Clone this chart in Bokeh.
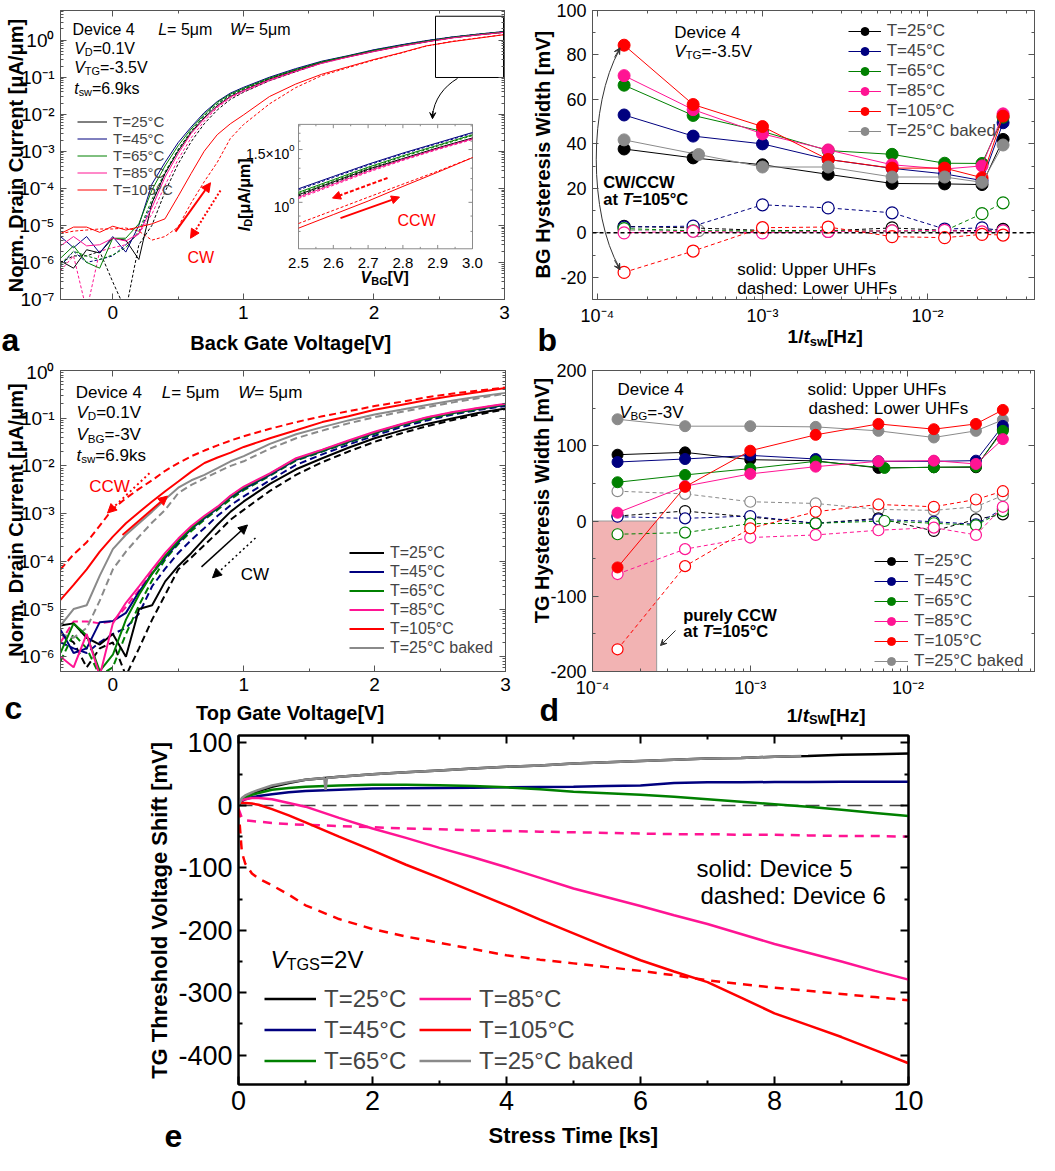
import math
from bokeh.plotting import figure
from bokeh.models import (Range1d, LinearAxis, LogAxis, Label, Arrow, NormalHead, VeeHead,
                          Legend, LegendItem, CustomJSTickFormatter, FixedTicker, Span,
                          LogScale, LinearScale)
from bokeh.layouts import column, row
from bokeh.embed import file_html
from bokeh.resources import INLINE

# ======================= DATA =======================
TEMP_LABELS = ["T=25°C", "T=45°C", "T=65°C", "T=85°C", "T=105°C", "T=25°C baked"]

# ---- panel a : BG transfer curves (forward = solid, reverse = dashed)
VA = [-0.4, -0.3, -0.2, -0.1, 0.0, 0.1, 0.2, 0.3, 0.4, 0.5, 0.6, 0.7, 0.8, 0.9, 1.0,
      1.2, 1.4, 1.6, 1.8, 2.0, 2.2, 2.4, 2.6, 2.8, 3.0]
a_fw_25 = [1.1e-6, 7e-7, 2.2e-6, 1.8e-6, 4.5e-6, 4e-6, 1.2e-6, 4e-5, 2.5e-4, 1e-3, 3.2e-3, 8e-3, 1.7e-2, 3e-2, 4.4e-2,
           8.8e-2, 0.15, 0.25, 0.36, 0.51, 0.69, 0.91, 1.17, 1.40, 1.64]
a_fw_45 = [5e-6, 2.5e-6, 5e-6, 1.8e-6, 5e-6, 1.9e-6, 1e-5, 1.3e-4, 5e-4, 1.7e-3, 4.5e-3, 1.1e-2, 2.2e-2, 3.7e-2, 5.3e-2,
           0.10, 0.17, 0.27, 0.38, 0.55, 0.74, 0.97, 1.22, 1.46, 1.71]
a_fw_65 = [1.3e-6, 2.8e-6, 1e-6, 7e-7, 4.5e-6, 4.5e-6, 1.1e-5, 9e-5, 4e-4, 1.4e-3, 4e-3, 1e-2, 2.1e-2, 3.5e-2, 5.0e-2,
           0.095, 0.16, 0.26, 0.37, 0.53, 0.71, 0.94, 1.19, 1.43, 1.68]
a_fw_85 = [2.8e-6, 5e-6, 2.8e-6, 3e-6, 4.5e-6, 3.8e-6, 6e-6, 3e-5, 2e-4, 8.5e-4, 3e-3, 7.5e-3, 1.6e-2, 2.9e-2, 4.3e-2,
           8.5e-2, 0.145, 0.24, 0.35, 0.50, 0.68, 0.90, 1.15, 1.39, 1.63]
a_fw_105 = [6e-6, 9e-6, 9e-6, 6.5e-6, 9.5e-6, 7.5e-6, 9e-6, 1.1e-5, 1.5e-5, 6e-5, 2.5e-4, 1e-3, 2.8e-3, 5.5e-3, 9.5e-3,
            3e-2, 6.5e-2, 0.12, 0.19, 0.30, 0.45, 0.70, 0.91, 1.13, 1.41]
a_rv_25 = [1e-6, 1.5e-6, 1.5e-6, 2e-6, 3e-7, 5e-8, 3e-6, 1e-5, 8e-5, 4.5e-4, 1.8e-3, 5.5e-3, 1.3e-2, 2.5e-2, 3.9e-2,
           8e-2, 0.14, 0.24, 0.35, 0.50, 0.68, 0.90, 1.16, 1.39, 1.63]
a_rv_45 = [8e-7, 2e-6, 1e-6, 1.2e-6, 1.5e-6, 3e-6, 6e-6, 4e-5, 2.5e-4, 1.1e-3, 3.5e-3, 9e-3, 1.9e-2, 3.3e-2, 4.8e-2,
           0.094, 0.16, 0.26, 0.37, 0.54, 0.73, 0.96, 1.21, 1.45, 1.70]
a_rv_65 = [9e-7, 2e-6, 1.5e-6, 1.2e-6, 1.6e-6, 2.5e-6, 7e-6, 5e-5, 2.8e-4, 1.1e-3, 3.5e-3, 9e-3, 1.9e-2, 3.2e-2, 4.7e-2,
           0.09, 0.155, 0.25, 0.36, 0.52, 0.70, 0.93, 1.18, 1.42, 1.67]
a_rv_85 = [6e-7, 1.5e-6, 5e-8, 2e-6, 2.5e-6, 3e-6, 6e-6, 2e-5, 1.2e-4, 6e-4, 2.3e-3, 6.5e-3, 1.5e-2, 2.7e-2, 4.0e-2,
           8e-2, 0.14, 0.235, 0.345, 0.49, 0.67, 0.89, 1.14, 1.38, 1.62]
a_rv_105 = [6e-6, 7e-6, 7.5e-6, 8e-6, 8e-6, 8.5e-6, 7e-6, 4e-6, 5e-6, 9e-6, 4e-5, 1.5e-4, 5e-4, 2.2e-3, 5.2e-3,
            1.9e-2, 5.2e-2, 0.11, 0.18, 0.29, 0.44, 0.69, 0.93, 1.15, 1.41]

# ---- panel a inset (zoom 2.5 .. 3.0 V)
VI = [2.5, 2.6, 2.7, 2.8, 2.9, 3.0]
i_fw_25 = [1.06, 1.17, 1.29, 1.40, 1.52, 1.64]
i_rv_25 = [1.05, 1.16, 1.28, 1.39, 1.51, 1.63]
i_fw_45 = [1.11, 1.22, 1.34, 1.46, 1.58, 1.71]
i_rv_45 = [1.10, 1.21, 1.33, 1.45, 1.57, 1.70]
i_fw_65 = [1.08, 1.19, 1.31, 1.43, 1.55, 1.68]
i_rv_65 = [1.07, 1.18, 1.30, 1.42, 1.54, 1.67]
i_fw_85 = [1.04, 1.15, 1.27, 1.39, 1.51, 1.63]
i_rv_85 = [1.03, 1.14, 1.26, 1.38, 1.50, 1.62]
i_fw_105 = [0.82, 0.91, 1.01, 1.13, 1.26, 1.41]
i_rv_105 = [0.85, 0.94, 1.04, 1.15, 1.27, 1.41]

# ---- panel c : TG transfer curves
VC = VA
c_fw_25 = [4.5e-6, 5e-6, 2.5e-6, 1.8e-6, 3e-6, 1e-6, 1e-5, 1.2e-5, 3.8e-5, 8e-5, 1.5e-4, 3e-4, 5.9e-4, 1.1e-3, 1.8e-3,
           4.2e-3, 8.5e-3, 1.45e-2, 2.4e-2, 3.8e-2, 5.5e-2, 7.6e-2, 0.1, 0.13, 0.16]
c_rv_25 = [3e-6, 2e-6, 6e-7, 1.5e-6, 2e-6, 4e-7, 1.5e-6, 6e-6, 2e-5, 6.8e-5, 1.2e-4, 2.2e-4, 4e-4, 7.5e-4, 1.2e-3,
           3e-3, 6.5e-3, 1.2e-2, 2e-2, 3.2e-2, 4.8e-2, 6.8e-2, 9.2e-2, 0.12, 0.155]
c_fw_45 = [3.7e-6, 1.2e-6, 1.5e-6, 5.3e-6, 5.6e-6, 8.3e-6, 2.3e-5, 5.5e-5, 1.2e-4, 2.5e-4, 4.8e-4, 8e-4, 1.3e-3, 2.2e-3, 3.3e-3,
           6.5e-3, 1.35e-2, 2.05e-2, 3.2e-2, 4.9e-2, 7.2e-2, 0.1, 0.128, 0.158, 0.19]
c_rv_45 = [2e-6, 1.5e-6, 1.2e-6, 2e-6, 3e-6, 4e-6, 8e-6, 3e-5, 7e-5, 1.5e-4, 2.8e-4, 5e-4, 9e-4, 1.5e-3, 2.3e-3,
           5e-3, 1.05e-2, 1.75e-2, 2.8e-2, 4.3e-2, 6.5e-2, 9e-2, 0.12, 0.15, 0.18]
c_fw_65 = [1.2e-6, 5e-6, 2.8e-6, 5e-7, 1.1e-6, 6e-6, 2e-5, 5.5e-5, 1.3e-4, 2.7e-4, 5e-4, 8.5e-4, 1.35e-3, 2.3e-3, 3.5e-3,
           6.8e-3, 1.4e-2, 2.1e-2, 3.3e-2, 5e-2, 7.3e-2, 0.1, 0.13, 0.16, 0.195]
c_rv_65 = [8e-7, 3e-6, 1.5e-6, 4e-7, 6e-7, 3e-6, 1.2e-5, 4e-5, 1.1e-4, 2.3e-4, 4.3e-4, 7.5e-4, 1.2e-3, 2e-3, 3.1e-3,
           6.2e-3, 1.3e-2, 2e-2, 3.1e-2, 4.7e-2, 7e-2, 9.6e-2, 0.125, 0.155, 0.19]
c_fw_85 = [1e-6, 6e-7, 3e-6, 4e-7, 5e-6, 1.35e-5, 3e-5, 6.8e-5, 1.5e-4, 3e-4, 5.5e-4, 9e-4, 1.4e-3, 2.4e-3, 3.7e-3,
           7e-3, 1.45e-2, 2.2e-2, 3.4e-2, 5.2e-2, 7.5e-2, 0.105, 0.135, 0.165, 0.2]
c_rv_85 = [2e-6, 5.5e-6, 5.5e-6, 5e-6, 5.5e-6, 1.1e-5, 2.5e-5, 6e-5, 1.35e-4, 2.7e-4, 5e-4, 8.5e-4, 1.35e-3, 2.3e-3, 3.5e-3,
           6.8e-3, 1.4e-2, 2.15e-2, 3.3e-2, 5e-2, 7.3e-2, 0.103, 0.133, 0.163, 0.198]
c_fw_105 = [1.55e-5, 3.2e-5, 6.8e-5, 1.6e-4, 3.3e-4, 6.3e-4, 1.07e-3, 1.8e-3, 2.95e-3, 4.7e-3, 7.6e-3, 1.15e-2, 1.5e-2, 1.9e-2, 2.5e-2,
            3.8e-2, 5.6e-2, 8.3e-2, 0.11, 0.15, 0.19, 0.24, 0.295, 0.355, 0.43]
c_rv_105 = [6.8e-5, 1.4e-4, 2.5e-4, 5.6e-4, 1.26e-3, 2.1e-3, 3.3e-3, 5e-3, 7.9e-3, 1.15e-2, 1.6e-2, 2.1e-2, 2.7e-2, 3.4e-2, 4.2e-2,
            6e-2, 8.3e-2, 0.11, 0.14, 0.18, 0.22, 0.275, 0.33, 0.38, 0.44]
c_fw_bk = [4.5e-6, 1e-5, 1.2e-5, 5e-5, 1.8e-4, 3.6e-4, 6.3e-4, 1.1e-3, 2e-3, 3.5e-3, 5e-3, 6.5e-3, 9e-3, 1.25e-2, 1.6e-2,
           2.9e-2, 4.6e-2, 6.5e-2, 9e-2, 0.12, 0.15, 0.19, 0.235, 0.285, 0.34]
c_rv_bk = [3e-6, 2.5e-6, 4e-6, 1.5e-5, 6.8e-5, 1.6e-4, 3.3e-4, 6.5e-4, 1.2e-3, 2.7e-3, 4e-3, 5.5e-3, 7.5e-3, 1e-2, 1.25e-2,
           2.3e-2, 3.8e-2, 5.5e-2, 7.8e-2, 0.105, 0.135, 0.17, 0.215, 0.265, 0.33]

# ---- panel b : BG hysteresis width vs 1/t_sw
FB = [1.45e-4, 3.8e-4, 1.0e-3, 2.5e-3, 6.1e-3, 1.27e-2, 2.14e-2, 2.87e-2]
FB_BK = [1.45e-4, 4.1e-4, 1.0e-3, 2.5e-3, 6.1e-3, 1.27e-2, 2.14e-2, 2.87e-2]
b_up_25 = [37.7, 33.7, 30.6, 26.3, 22.2, 22.0, 21.7, 42.0]
b_up_45 = [53.0, 43.5, 40.0, 33.0, 29.0, 26.5, 23.5, 49.5]
b_up_65 = [66.4, 52.8, 45.6, 37.0, 35.3, 31.3, 31.2, 52.0]
b_up_85 = [70.7, 55.4, 44.5, 37.3, 30.6, 28.7, 30.1, 53.5]
b_up_105 = [84.4, 57.7, 47.8, 33.0, 29.1, 29.1, 24.8, 52.5]
b_up_bk = [41.8, 35.2, 29.6, 29.6, 25.1, 25.1, 22.7, 39.5]
b_lo_25 = [2.9, 2.2, 1.1, 0.9, 2.2, 1.1, 1.0, 1.5]
b_lo_45 = [2.6, 3.0, 12.6, 11.2, 9.0, 1.7, 2.2, 0.9]
b_lo_65 = [1.9, 0.9, 0.9, 0.9, 0.9, 0.9, 8.6, 13.5]
b_lo_85 = [0.0, 0.7, 0.0, 0.6, 0.9, 1.1, 0.4, 0.9]
b_lo_105 = [-17.8, -8.2, 2.3, 2.6, -1.7, -2.2, -0.7, -1.0]
b_lo_bk = [1.2, 1.0, 0.6, 0.6, 0.5, 0.5, 0.4, 0.5]

# ---- panel d : TG hysteresis width vs 1/t_sw
FD = [1.44e-4, 3.86e-4, 1.0e-3, 2.6e-3, 6.5e-3, 1.46e-2, 2.7e-2, 4.0e-2]
FD_65 = [1.44e-4, 3.86e-4, 1.0e-3, 2.6e-3, 7.1e-3, 1.46e-2, 2.7e-2, 4.0e-2]
d_up_25 = [88.1, 91.2, 81.5, 80.0, 70.5, 71.4, 71.4, 122.0]
d_up_45 = [78.4, 82.4, 87.2, 82.4, 79.3, 79.3, 80.2, 126.4]
d_up_65 = [51.5, 61.2, 69.6, 79.3, 70.5, 71.4, 72.2, 119.8]
d_up_85 = [11.0, 46.3, 62.6, 72.2, 79.3, 80.2, 75.8, 108.8]
d_up_105 = [-61.7, 45.4, 93.4, 114.5, 129.0, 122.0, 129.0, 147.6]
d_up_bk = [135.2, 126.0, 126.0, 125.1, 119.8, 111.0, 119.8, 134.4]
d_lo_25 = [6.6, 13.2, 5.3, -3.1, 3.5, -13.2, 2.2, 8.8]
d_lo_45 = [5.7, 3.5, 6.6, -3.1, 2.2, -0.9, -4.4, 16.0]
d_lo_65 = [-17.6, -15.4, -3.5, -3.1, 0.0, -3.0, -5.7, 13.2]
d_lo_85 = [-70.5, -37.4, -22.0, -18.5, -12.3, -8.8, -18.5, 18.9]
d_lo_105 = [-170.5, -60.0, -9.7, 12.3, 22.0, 18.9, 28.6, 39.6]
d_lo_bk = [39.6, 36.1, 25.6, 23.3, 15.4, 14.1, 18.9, 33.9]
CCW_BAND = (1.0e-4, 2.55e-4)   # 1/t_sw region that is purely CCW at 105 C

# ---- panel e : TG threshold voltage shift vs stress time
TE = [0, 0.05, 0.1, 0.2, 0.3, 0.5, 0.75, 1, 1.5, 2, 2.5, 3, 3.5, 4, 4.5, 5, 5.5, 6, 6.5, 7, 7.5, 8, 8.5, 9, 9.5, 10]
e_25 = [0, 10, 14, 19, 23, 30, 36, 41, 46, 50, 53, 56, 59, 62, 64, 67, 69, 71, 73, 75, 76, 78, 79, 81, 82, 83]
e_45 = [0, 7, 10, 13, 15, 18, 21, 23, 25, 27, 27.5, 28, 28.5, 29, 29.5, 30, 31, 32, 36, 37, 37, 37.5, 37.5, 38, 38, 38]
e_65 = [0, 9, 13, 17, 20, 25, 28, 30, 32, 33, 33, 32.5, 31, 29, 26, 22, 19.5, 17, 14, 10, 6, 2, -2, -7, -12, -17]
e_85 = [5, 8, 10, 12, 12, 10, 4, -2, -20, -37, -52, -68, -83, -99, -116, -133, -147, -161, -176, -190, -206, -222,
        -236, -250, -265, -279]
e_105 = [3, 4, 4, 3, 1, -6, -16, -27, -50, -72, -95, -116, -138, -160, -183, -205, -227, -248, -266, -283, -308, -333,
         -352, -371, -392, -413]
e_85_dev6 = [-5, -20, -24, -25, -26, -28, -30, -31, -33, -35, -37, -38, -40, -41, -42, -43, -44, -45, -46, -46, -47,
             -47, -48, -49, -49, -50]
e_105_dev6 = [-5, -75, -93, -109, -117, -128, -143, -160, -182, -198, -210, -220, -230, -240, -247, -253, -259, -265,
              -272, -280, -286, -292, -297, -302, -307, -312]
TE_BK = [0, 0.05, 0.1, 0.2, 0.3, 0.5, 0.75, 1, 1.28, 1.3, 1.32, 1.5, 2, 2.5, 3, 3.5, 4, 4.5, 5, 5.5, 6, 6.5, 7, 7.5, 8, 8.4]
e_bk = [0, 12, 16, 21, 25, 32, 37, 41, 44, 25, 44, 46, 50, 53, 56, 59, 62, 64, 67, 69, 71, 73, 75, 76, 78, 79]

# ======================= STYLE / GEOMETRY =======================
FONT = "Liberation Sans"
BLACK, BLUE, GREEN, PINK, RED, GRAY = "#000000", "#00007f", "#008000", "#ff1493", "#ff0000", "#8a8a8a"
COLS = [BLACK, BLUE, GREEN, PINK, RED, GRAY]
AX = "#555555"
PAGE_MARGIN = 8
LEG_DX, LEG_DY = 9, 9   # empirical legend placement correction

# frame boxes (L, R, T, B) on the reference picture and for this page; figure extents (x0, x1, y0, y1)
REF_A, MY_A, FIG_A = (68, 512, 7, 309), (68, 512, 18, 307), (8, 528, 8, 369)
REF_B, MY_B, FIG_B = (600, 1042, 7, 309), (600, 1042, 18, 307), (528, 1047, 8, 369)
REF_C, MY_C, FIG_C = (68, 513, 380, 682), (68, 513, 378, 679), (8, 528, 369, 731)
REF_D, MY_D, FIG_D = (600, 1042, 380, 681), (600, 1042, 378, 679), (528, 1047, 369, 731)
REF_E, MY_E, FIG_E = (246, 916, 745, 1104), (246, 916, 743, 1092), (8, 1047, 731, 1162)
OV_W, OV_H = 1039, 1154

A_XR, A_YR = (-0.4, 3.0), (0.999e-7, 10 ** 0.8)
B_XR, B_YR = (9.33e-5, 4.45e-2), (-30, 100)
C_XR, C_YR = (-0.4, 3.0), (4.9e-7, 1.001)
D_XR, D_YR = (0.999e-4, 6.35e-2), (-200, 200)
E_XR, E_YR = (0, 10), (-447, 112)

W_REG = {' ': 278, '(': 333, ')': 333, '+': 584, ',': 278, '-': 333, '.': 278, '/': 278, ':': 278, '=': 584,
         '[': 278, ']': 278, '°': 400, 'μ': 576, '×': 584,
         'A': 667, 'B': 667, 'C': 722, 'D': 722, 'E': 667, 'F': 611, 'G': 778, 'H': 722, 'I': 278, 'J': 500,
         'K': 667, 'L': 556, 'M': 833, 'N': 722, 'O': 778, 'P': 667, 'Q': 778, 'R': 722, 'S': 667, 'T': 611,
         'U': 722, 'V': 667, 'W': 944, 'X': 667, 'Y': 667, 'Z': 611,
         'a': 556, 'b': 556, 'c': 500, 'd': 556, 'e': 556, 'f': 278, 'g': 556, 'h': 556, 'i': 222, 'j': 222,
         'k': 500, 'l': 222, 'm': 833, 'n': 556, 'o': 556, 'p': 556, 'q': 556, 'r': 333, 's': 500, 't': 278,
         'u': 556, 'v': 500, 'w': 722, 'x': 500, 'y': 500, 'z': 500}
W_BOLD = dict(W_REG)
W_BOLD.update({'[': 333, ']': 333, ':': 333, 'A': 722, 'B': 722, 'L': 611, 'b': 611, 'c': 556, 'd': 611,
               'f': 333, 'g': 611, 'h': 611, 'i': 278, 'j': 278, 'k': 556, 'l': 278, 'm': 889, 'n': 611,
               'o': 611, 'p': 611, 'q': 611, 'r': 389, 's': 556, 't': 333, 'u': 611, 'v': 556, 'w': 778,
               'x': 556, 'y': 556, 'μ': 611})


def tw(s, size, bold):
    tbl = W_BOLD if bold else W_REG
    return sum(tbl.get(ch, 556) for ch in s) * size / 1000.0


class Pan:
    """maps positions read on the reference picture (px) to data coords / page px of a panel"""
    def __init__(self, p, ref, mine, xr, yr, xlog, ylog):
        self.p, self.ref, self.mine, self.xr, self.yr, self.xlog, self.ylog = p, ref, mine, xr, yr, xlog, ylog

    def _map(self, f, r, log):
        a, b = r
        if log:
            a, b = math.log10(a), math.log10(b)
            return 10 ** (a + f * (b - a))
        return a + f * (b - a)

    def dx(self, px):
        L, R, T, B = self.ref
        return self._map((px - L) / (R - L), self.xr, self.xlog)

    def dy(self, py):
        L, R, T, B = self.ref
        return self._map((B - py) / (B - T), self.yr, self.ylog)

    def pt(self, px, py):
        return self.dx(px), self.dy(py)

    def to_page(self, px, py):
        L, R, T, B = self.ref
        mL, mR, mT, mB = self.mine
        return mL + (px - L) * (mR - mL) / (R - L), mT + (py - T) * (mB - mT) / (B - T)

    def legend_loc(self, left_px, bottom_px):
        L, R, T, B = self.ref
        mL, mR, mT, mB = self.mine
        return ((left_px + LEG_DX - L) * (mR - mL) / (R - L), (B - bottom_px - LEG_DY) * (mB - mT) / (B - T))


# transparent overlay figure (its own document root) that carries every text, so that no text
# is clipped by a plot frame; it is pulled up over the panels with a negative top margin
ov = figure(width=OV_W, height=OV_H, x_range=Range1d(0, OV_W), y_range=Range1d(0, OV_H),
            output_backend="svg", toolbar_location=None, x_axis_location=None, y_axis_location=None,
            min_border=0, min_border_left=0, min_border_right=0, min_border_top=0, min_border_bottom=0,
            margin=(-OV_H, 0, 0, 0))
ov.xgrid.visible = False
ov.ygrid.visible = False
ov.outline_line_color = None
ov.background_fill_color = None
ov.border_fill_color = None


def put_runs(X, Y, runs, size, color="black", bold=False, vertical=False, align="left"):
    items = []
    for t, m in runs:
        s = size * 0.68 if m in ("sub", "sup") else size
        items.append((t, m, s, tw(t, s, bold)))
    total = sum(it[3] for it in items)
    pos = {"left": 0.0, "center": -total / 2.0, "right": -total}[align]
    for t, m, s, w in items:
        shift = -0.22 * size if m == "sub" else (0.42 * size if m == "sup" else 0.0)
        if vertical:
            x, y = X - shift, Y - pos
        else:
            x, y = X + pos, Y - shift
        if m == "i":
            style = "bold italic" if bold else "italic"
        else:
            style = "bold" if bold else "normal"
        ov.add_layout(Label(x=x - PAGE_MARGIN, y=OV_H - (y - PAGE_MARGIN), text=t, text_font=FONT,
                            text_font_size=f"{s:.1f}px", text_font_style=style, text_color=color,
                            text_align="left", text_baseline="alphabetic",
                            angle=(math.pi / 2 if vertical else 0.0)))
        pos += w


def rich(P, px, py, runs, size, **kw):
    X, Y = P.to_page(px, py)
    put_runs(X, Y, runs, size, **kw)


def arrow(P, p0, p1, color, width=2.0, dash="solid", head=9, vee=False):
    x0, y0 = P.pt(*p0)
    x1, y1 = P.pt(*p1)
    hd = (VeeHead(size=head, line_color=color, line_width=1, fill_color=color) if vee else
          NormalHead(size=head, line_color=color, fill_color=color, line_width=1))
    P.p.add_layout(Arrow(end=hd, x_start=x0, y_start=y0, x_end=x1, y_end=y1, line_color=color,
                         line_width=width, line_dash=dash))


SUPFMT = CustomJSTickFormatter(code="""
const s = {"-":"\u207b","0":"\u2070","1":"\u00b9","2":"\u00b2","3":"\u00b3","4":"\u2074","5":"\u2075","6":"\u2076","7":"\u2077","8":"\u2078","9":"\u2079"};
const e = Math.round(Math.log10(tick));
return "10" + String(e).split("").map(c => s[c]).join("");
""")
PLAINFMT = CustomJSTickFormatter(code="return String(Math.round(tick * 1000) / 1000);")
EMPTYFMT = CustomJSTickFormatter(code="return '';")


def log_ticker(k0, k1):
    return FixedTicker(ticks=[10.0 ** k for k in range(k0, k1 + 1)],
                       minor_ticks=[m * 10.0 ** k for k in range(k0 - 1, k1 + 1) for m in range(2, 10)])


def make_fig(fig, my, xr, yr, xlog=False, ylog=False):
    fx0, fx1, fy0, fy1 = fig
    L, R, T, B = my
    p = figure(width=fx1 - fx0, height=fy1 - fy0, x_range=Range1d(*xr), y_range=Range1d(*yr),
               x_axis_type="log" if xlog else "linear", y_axis_type="log" if ylog else "linear",
               output_backend="svg", toolbar_location=None,
               min_border_left=L - fx0, min_border_right=fx1 - R, min_border_top=T - fy0,
               min_border_bottom=fy1 - B)
    p.xgrid.visible = False
    p.ygrid.visible = False
    p.background_fill_color = "white"
    p.border_fill_color = "white"
    p.outline_line_color = AX
    return p


def style_axis(ax, fs, color, lw, tin, labels=True, standoff=6):
    ax.axis_line_color = color
    ax.axis_line_width = lw
    ax.major_tick_line_color = color
    ax.minor_tick_line_color = color
    ax.major_tick_line_width = lw
    ax.minor_tick_line_width = lw
    ax.major_tick_in = tin
    ax.major_tick_out = 0
    ax.minor_tick_in = tin // 2
    ax.minor_tick_out = 0
    ax.major_label_text_font = FONT
    if labels:
        ax.major_label_text_color = "black"
        ax.major_label_text_font_size = f"{fs}px"
        ax.major_label_standoff = standoff
    else:
        ax.formatter = EMPTYFMT
        ax.major_label_text_font_size = "1px"
        ax.major_label_standoff = 0


def setup_axes(p, xt, yt, xlog, ylog, fs, color=AX, lw=1, tin=6, standoff=6):
    p.xaxis[0].ticker = xt
    p.yaxis[0].ticker = yt
    p.xaxis[0].formatter = SUPFMT if xlog else PLAINFMT
    p.yaxis[0].formatter = SUPFMT if ylog else PLAINFMT
    style_axis(p.xaxis[0], fs, color, lw, tin, standoff=standoff)
    style_axis(p.yaxis[0], fs, color, lw, tin, standoff=standoff)
    top = (LogAxis if xlog else LinearAxis)(ticker=xt)
    style_axis(top, fs, color, lw, tin, labels=False)
    p.add_layout(top, "above")
    right = (LogAxis if ylog else LinearAxis)(ticker=yt)
    style_axis(right, fs, color, lw, tin, labels=False)
    p.add_layout(right, "right")


def add_legend(P, renderers, labels, left_px, bottom_px, gw, gh, fs, spacing=0, standoff=6):
    items = [LegendItem(label=lab, renderers=r if isinstance(r, list) else [r]) for lab, r in zip(labels, renderers)]
    leg = Legend(items=items, location=P.legend_loc(left_px, bottom_px), orientation="vertical",
                 glyph_width=gw, glyph_height=gh, label_height=gh, label_standoff=standoff,
                 spacing=spacing, padding=0, margin=0, border_line_alpha=0, background_fill_alpha=0,
                 label_text_font=FONT, label_text_font_size=f"{fs}px")
    P.p.add_layout(leg)


# ======================= PANEL a =======================
pa = make_fig(FIG_A, MY_A, A_XR, A_YR, ylog=True)
PA = Pan(pa, REF_A, MY_A, A_XR, A_YR, False, True)
setup_axes(pa, FixedTicker(ticks=[0, 1, 2, 3], minor_ticks=[0.5, 1.5, 2.5]), log_ticker(-7, 0), False, True, 19)

a_rv = [a_rv_25, a_rv_45, a_rv_65, a_rv_85, a_rv_105]
a_fw = [a_fw_25, a_fw_45, a_fw_65, a_fw_85, a_fw_105]
for ys, c in zip(a_rv, COLS):
    pa.line(VA, ys, line_color=c, line_width=1, line_dash="3 2")
a_leg = []
for ys, c in zip(a_fw, COLS):
    a_leg.append(pa.line(VA, ys, line_color=c, line_width=1))

# zoom box + curved pointer
pa.quad(left=[PA.dx(443)], right=[PA.dx(511)], top=[PA.dy(13)], bottom=[PA.dy(77)],
        fill_alpha=0, line_color="black", line_width=1)
pa.bezier(x0=[PA.dx(465)], y0=[PA.dy(78)], x1=[PA.dx(440)], y1=[PA.dy(118)],
          cx0=[PA.dx(452)], cy0=[PA.dy(86)], cx1=[PA.dx(441)], cy1=[PA.dy(100)],
          line_color="black", line_width=1)
arrow(PA, (440.3, 112), (440, 120), "black", width=1, head=6, vee=True)

# inset
INSET_PX = (306, 480, 126, 256)           # left, right, top, bottom on reference
INSET_XR, INSET_YR = (2.5, 3.0), (0.70, 1.82)
ix0, iy_top = PA.pt(INSET_PX[0], INSET_PX[2])
ix1, iy_bot = PA.pt(INSET_PX[1], INSET_PX[3])
sx = (INSET_XR[1] - INSET_XR[0]) / (ix1 - ix0)
lt, lb = math.log10(iy_top), math.log10(iy_bot)
sy = (math.log10(INSET_YR[1]) - math.log10(INSET_YR[0])) / (lt - lb)
pa.extra_x_ranges = {"ix": Range1d(INSET_XR[0] + (A_XR[0] - ix0) * sx, INSET_XR[0] + (A_XR[1] - ix0) * sx)}
pa.extra_y_ranges = {"iy": Range1d(10 ** (math.log10(INSET_YR[0]) + (math.log10(A_YR[0]) - lb) * sy),
                                   10 ** (math.log10(INSET_YR[0]) + (math.log10(A_YR[1]) - lb) * sy))}
pa.extra_x_scales = {"ix": LinearScale()}
pa.extra_y_scales = {"iy": LogScale()}
pa.quad(left=[ix0], right=[ix1], top=[iy_top], bottom=[iy_bot], fill_color="white",
        line_color="#8a8a8a", line_width=1)
i_rv = [i_rv_25, i_rv_45, i_rv_65, i_rv_85, i_rv_105]
i_fw = [i_fw_25, i_fw_45, i_fw_65, i_fw_85, i_fw_105]
for ys, c in zip(i_rv, COLS):
    pa.line(VI, ys, line_color=c, line_width=1, line_dash="3 2", x_range_name="ix", y_range_name="iy")
for ys, c in zip(i_fw, COLS):
    pa.line(VI, ys, line_color=c, line_width=1, x_range_name="ix", y_range_name="iy")


def ipx(v):
    return INSET_PX[0] + (v - INSET_XR[0]) / (INSET_XR[1] - INSET_XR[0]) * (INSET_PX[1] - INSET_PX[0])


def ipy(v):
    f = (math.log10(v) - math.log10(INSET_YR[0])) / (math.log10(INSET_YR[1]) - math.log10(INSET_YR[0]))
    return INSET_PX[3] - f * (INSET_PX[3] - INSET_PX[2])


seg = {"x0": [], "y0": [], "x1": [], "y1": []}


def add_seg(a, b):
    p0, p1 = PA.pt(*a), PA.pt(*b)
    seg["x0"].append(p0[0]); seg["y0"].append(p0[1]); seg["x1"].append(p1[0]); seg["y1"].append(p1[1])


for k in range(11):
    v = 2.5 + 0.05 * k
    ln = 4 if k % 2 == 0 else 2
    add_seg((ipx(v), INSET_PX[3]), (ipx(v), INSET_PX[3] - ln))
    add_seg((ipx(v), INSET_PX[2]), (ipx(v), INSET_PX[2] + ln))
for v in [0.8, 0.9, 1.0, 1.1, 1.2, 1.3, 1.4, 1.5, 1.6, 1.7, 1.8]:
    ln = 4 if v in (1.0, 1.5) else 2
    add_seg((INSET_PX[0], ipy(v)), (INSET_PX[0] + ln, ipy(v)))
    add_seg((INSET_PX[1], ipy(v)), (INSET_PX[1] - ln, ipy(v)))
pa.segment(x0=seg["x0"], y0=seg["y0"], x1=seg["x1"], y1=seg["y1"], line_color="#8a8a8a", line_width=1)

for k in range(6):
    v = 2.5 + 0.1 * k
    rich(PA, ipx(v), 271, [(f"{v:.1f}", "n")], 15, align="center")
rich(PA, 302, 157, [("1.5×10", "n"), ("0", "sup")], 14, align="right")
rich(PA, 302, 212, [("10", "n"), ("0", "sup")], 14, align="right")
rich(PA, 396.7, 286, [("V", "i"), ("BG", "sub"), ("  [V]", "n")], 16, bold=True, align="center")
rich(PA, 252, 195, [("I", "i"), ("D", "sub"), ("  [μA/μm]", "n")], 16, bold=True, vertical=True, align="center")

rich(PA, 80, 27, [("Device 4", "n")], 16)
rich(PA, 165.7, 27, [("L", "i"), ("  = 5μm  ", "n"), ("W", "i"), ("  = 5μm", "n")], 16)
rich(PA, 81.7, 46.5, [("V", "i"), ("D", "sub"), ("=0.1V", "n")], 16)
rich(PA, 81.7, 67, [("V", "i"), ("TG", "sub"), ("=-3.5V", "n")], 16)
rich(PA, 81.7, 88, [("t", "i"), ("sw", "sub"), ("=6.9ks", "n")], 16)
rich(PA, 195, 265, [("CW", "n")], 16, color=RED)
rich(PA, 405, 226.7, [("CCW", "n")], 16, color=RED)
arrow(PA, (183, 238), (218, 187), RED, width=2)
arrow(PA, (228, 195), (198, 245), RED, width=2, dash="2 2")
arrow(PA, (395, 182), (340, 203), RED, width=2, dash="4 2", head=8)
arrow(PA, (348, 224), (407, 202), RED, width=2, head=8)
rich(PA, 299, 354, [("Back Gate Voltage[V]", "n")], 20, bold=True, align="center")
rich(PA, 23, 158.5, [("Norm. Drain Current [μA/μm]", "n")], 20, bold=True, vertical=True, align="center")
rich(PA, 9, 351, [("a", "n")], 32, bold=True)
add_legend(PA, a_leg, TEMP_LABELS[:5], 76, 194, 30, 17, 15)

# ======================= PANEL b =======================
pb = make_fig(FIG_B, MY_B, B_XR, B_YR, xlog=True)
PB = Pan(pb, REF_B, MY_B, B_XR, B_YR, True, False)
setup_axes(pb, log_ticker(-4, -2), FixedTicker(ticks=[-20, 0, 20, 40, 60, 80, 100],
                                               minor_ticks=[-30, -10, 10, 30, 50, 70, 90]), True, False, 18)
pb.add_layout(Span(location=0, dimension="width", line_color="black", line_dash="4 3", line_width=1.5))
b_lo = [b_lo_25, b_lo_45, b_lo_65, b_lo_85, b_lo_105, b_lo_bk]
b_up = [b_up_25, b_up_45, b_up_65, b_up_85, b_up_105, b_up_bk]
b_x = [FB, FB, FB, FB, FB, FB_BK]
for order in [5, 0, 1, 2, 3, 4]:
    pb.line(b_x[order], b_lo[order], line_color=COLS[order], line_width=1, line_dash="4 3")
    pb.scatter(b_x[order], b_lo[order], marker="circle", size=12, fill_color="white",
               line_color=COLS[order], line_width=1.2)
b_leg = [None] * 6
for order in [0, 1, 2, 3, 4, 5]:
    r1 = pb.line(b_x[order], b_up[order], line_color=COLS[order], line_width=1)
    r2 = pb.scatter(b_x[order], b_up[order], marker="circle", size=12, fill_color=COLS[order],
                    line_color=COLS[order])
    b_leg[order] = [r1, r2]
pb.bezier(x0=[PB.dx(627)], y0=[PB.dy(48)], x1=[PB.dx(627)], y1=[PB.dy(276)],
          cx0=[PB.dx(596)], cy0=[PB.dy(105)], cx1=[PB.dx(596)], cy1=[PB.dy(220)],
          line_color="#333333", line_width=1)
arrow(PB, (622, 56), (627.5, 46), "#333333", width=1, head=6, vee=True)
arrow(PB, (622, 268), (627.5, 278), "#333333", width=1, head=6, vee=True)
rich(PB, 681.7, 30, [("Device 4", "n")], 17)
rich(PB, 681.7, 49.5, [("V", "i"), ("TG", "sub"), ("=-3.5V", "n")], 17)
rich(PB, 610.7, 185.7, [("CW/CCW", "n")], 16.5, bold=True)
rich(PB, 610.7, 204, [("at ", "n"), ("T", "i"), ("=105°C", "n")], 16.5, bold=True)
rich(PB, 744.7, 278, [("solid: Upper UHFs", "n")], 17)
rich(PB, 744.7, 297, [("dashed: Lower UHFs", "n")], 17)
rich(PB, 838, 348, [("1/", "n"), ("t", "i"), ("sw", "sub"), ("  [Hz]", "n")], 19, bold=True, align="center")
rich(PB, 550.5, 157.5, [("BG Hysteresis Width [mV]", "n")], 20, bold=True, vertical=True, align="center")
rich(PB, 545, 351, [("b", "n")], 32, bold=True)
add_legend(PB, b_leg, TEMP_LABELS, 846.7, 135, 33, 20, 17)

# ======================= PANEL c =======================
pc = make_fig(FIG_C, MY_C, C_XR, C_YR, ylog=True)
PC = Pan(pc, REF_C, MY_C, C_XR, C_YR, False, True)
setup_axes(pc, FixedTicker(ticks=[0, 1, 2, 3], minor_ticks=[0.5, 1.5, 2.5]), log_ticker(-6, 0), False, True, 19)
c_rv = [c_rv_25, c_rv_45, c_rv_65, c_rv_85, c_rv_105, c_rv_bk]
c_fw = [c_fw_25, c_fw_45, c_fw_65, c_fw_85, c_fw_105, c_fw_bk]
for ys, c in zip(c_rv, COLS):
    pc.line(VC, ys, line_color=c, line_width=2, line_dash="7 4")
c_leg = []
for ys, c in zip(c_fw, COLS):
    c_leg.append(pc.line(VC, ys, line_color=c, line_width=2))
rich(PC, 83.3, 402.3, [("Device 4", "n")], 17)
rich(PC, 169.3, 402.3, [("L", "i"), ("  = 5μm  ", "n"), ("W", "i"), ("  = 5μm", "n")], 17)
rich(PC, 84, 421.7, [("V", "i"), ("D", "sub"), ("=0.1V", "n")], 17)
rich(PC, 84, 444, [("V", "i"), ("BG", "sub"), ("=-3V", "n")], 17)
rich(PC, 84, 465, [("t", "i"), ("sw", "sub"), ("=6.9ks", "n")], 17)
rich(PC, 96.7, 496.7, [("CCW", "n")], 17, color=RED)
rich(PC, 248.3, 585, [("CW", "n")], 17)
arrow(PC, (157, 483), (115, 523), RED, width=2, dash="2 3")
arrow(PC, (130, 545), (175, 506), RED, width=2)
arrow(PC, (209, 577), (255, 535), BLACK, width=1.5)
arrow(PC, (263, 548), (220, 588), BLACK, width=1.5, dash="2 3")
rich(PC, 299, 724, [("Top Gate Voltage[V]", "n")], 20, bold=True, align="center")
rich(PC, 23, 530, [("Norm. Drain Current [μA/μm]", "n")], 20, bold=True, vertical=True, align="center")
rich(PC, 12, 719, [("c", "n")], 32, bold=True)
add_legend(PC, c_leg, TEMP_LABELS, 348, 659, 35, 19, 16)

# ======================= PANEL d =======================
pdd = make_fig(FIG_D, MY_D, D_XR, D_YR, xlog=True)
PD = Pan(pdd, REF_D, MY_D, D_XR, D_YR, True, False)
setup_axes(pdd, log_ticker(-4, -2), FixedTicker(ticks=[-200, -100, 0, 100, 200], minor_ticks=[-150, -50, 50, 150]),
           True, False, 18)
pdd.quad(left=[CCW_BAND[0]], right=[CCW_BAND[1]], top=[0], bottom=[-200], fill_color="#f2b3b3",
         line_color="#9a9a9a", line_width=1)
d_lo = [d_lo_25, d_lo_45, d_lo_65, d_lo_85, d_lo_105, d_lo_bk]
d_up = [d_up_25, d_up_45, d_up_65, d_up_85, d_up_105, d_up_bk]
d_x = [FD, FD, FD_65, FD, FD, FD]
for order in [5, 0, 1, 2, 3, 4]:
    pdd.line(d_x[order], d_lo[order], line_color=COLS[order], line_width=1, line_dash="4 3")
    pdd.scatter(d_x[order], d_lo[order], marker="circle", size=11, fill_color="white",
                line_color=COLS[order], line_width=1.2)
d_leg = [None] * 6
for order in [5, 0, 1, 2, 3, 4]:
    r1 = pdd.line(d_x[order], d_up[order], line_color=COLS[order], line_width=1)
    r2 = pdd.scatter(d_x[order], d_up[order], marker="circle", size=11, fill_color=COLS[order],
                     line_color=COLS[order])
    d_leg[order] = [r1, r2]
rich(PD, 625, 399.3, [("Device 4", "n")], 17)
rich(PD, 626.7, 421.7, [("V", "i"), ("BG", "sub"), ("=-3V", "n")], 17)
rich(PD, 815, 399, [("solid: Upper UHFs", "n")], 17)
rich(PD, 816, 418.3, [("dashed: Lower UHFs", "n")], 17)
rich(PD, 690.7, 624, [("purely CCW", "n")], 16.5, bold=True)
rich(PD, 690.7, 640.7, [("at ", "n"), ("T", "i"), ("=105°C", "n")], 16.5, bold=True)
arrow(PD, (683, 640), (668, 655), "#333333", width=1, head=6, vee=True)
rich(PD, 839, 725, [("1/", "n"), ("t", "i"), ("SW", "sub"), ("  [Hz]", "n")], 19, bold=True, align="center")
rich(PD, 549, 510, [("TG Hysteresis Width [mV]", "n")], 20, bold=True, vertical=True, align="center")
rich(PD, 547, 719, [("d", "n")], 32, bold=True)
add_legend(PD, d_leg, TEMP_LABELS, 873, 672, 34, 20, 17)

# ======================= PANEL e =======================
pe = make_fig(FIG_E, MY_E, E_XR, E_YR)
pe.outline_line_color = "black"
pe.outline_line_width = 2
PE = Pan(pe, REF_E, MY_E, E_XR, E_YR, False, False)
setup_axes(pe, FixedTicker(ticks=[0, 2, 4, 6, 8, 10], minor_ticks=[1, 3, 5, 7, 9]),
           FixedTicker(ticks=[-400, -300, -200, -100, 0, 100],
                       minor_ticks=[-450, -350, -250, -150, -50, 50]),
           False, False, 27, color="black", lw=2, tin=8, standoff=6)
pe.add_layout(Span(location=0, dimension="width", line_color="#444444", line_dash="14 7",
                   line_width=1.5, level="underlay"))
pe.line(TE, e_85_dev6, line_color=PINK, line_width=2.5, line_dash="9 7")
pe.line(TE, e_105_dev6, line_color=RED, line_width=2.5, line_dash="9 7")
r25 = pe.line(TE, e_25, line_color=BLACK, line_width=2.5)
r45 = pe.line(TE, e_45, line_color=BLUE, line_width=2.5)
r65 = pe.line(TE, e_65, line_color=GREEN, line_width=2.5)
r85 = pe.line(TE, e_85, line_color=PINK, line_width=2.5)
r105 = pe.line(TE, e_105, line_color=RED, line_width=2.5)
rbk = pe.line(TE_BK, e_bk, line_color=GRAY, line_width=2.5)
rich(PE, 278, 975, [("V", "i"), ("TGS", "sub"), ("=2V", "n")], 24)
rich(PE, 704, 882, [("solid: Device 5", "n")], 24)
rich(PE, 708, 910, [("dashed: Device 6", "n")], 24)
rich(PE, 167, 924, [("TG Threshold Voltage Shift [mV]", "n")], 22, bold=True, vertical=True, align="center")
# bottom texts are placed directly in page pixels, just above the page bottom
put_runs(581, 1143, [("Stress Time [ks]", "n")], 22, bold=True, align="center")
put_runs(172, 1143, [("e", "n")], 32, bold=True)
add_legend(PE, [r25, r45, r65], TEMP_LABELS[:3], 263, 1087, 52, 31, 24, standoff=8)
add_legend(PE, [r85, r105, rbk], TEMP_LABELS[3:], 418, 1087, 52, 31, 24, standoff=8)

layout = column(row(pa, pb), row(pc, pdd), pe)
open("out.html", "w").write(file_html([layout, ov], INLINE, "Hysteresis"))
